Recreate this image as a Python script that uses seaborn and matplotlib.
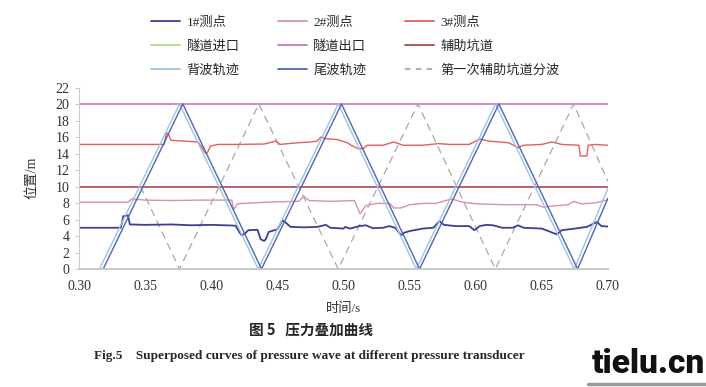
import matplotlib
matplotlib.use("Agg")
import numpy as np
import pandas as pd
import matplotlib.pyplot as plt
from matplotlib.lines import Line2D
import seaborn as sns

# ---------------- data ----------------
p1_t = [0.300, 0.3316, 0.3335, 0.337, 0.3385, 0.350, 0.370, 0.385, 0.400, 0.410,
        0.4184, 0.4215, 0.423, 0.4255, 0.428, 0.435, 0.4374, 0.4400, 0.4412, 0.4435,
        0.450, 0.4538, 0.4565, 0.460, 0.470, 0.480, 0.4867, 0.490, 0.500, 0.5013,
        0.505, 0.512, 0.517, 0.522, 0.530, 0.5345, 0.539, 0.5436, 0.546, 0.550,
        0.560, 0.568, 0.5725, 0.576, 0.585, 0.595, 0.599, 0.603, 0.608, 0.613,
        0.620, 0.628, 0.632, 0.636, 0.650, 0.6613, 0.665, 0.675, 0.684, 0.6917,
        0.695, 0.700]
p1_v = [5.0, 5.0, 6.4, 6.5, 5.4, 5.35, 5.4, 5.3, 5.35, 5.3,
        5.25, 4.4, 4.1, 4.3, 4.7, 4.75, 3.6, 3.4, 3.6, 4.5,
        4.8, 5.9, 5.6, 5.1, 5.05, 5.1, 5.35, 5.0, 4.9, 5.1,
        4.9, 5.2, 5.3, 4.95, 5.0, 5.2, 5.0, 4.1, 4.4, 4.6,
        4.9, 5.0, 5.8, 5.35, 5.2, 5.2, 4.7, 5.2, 5.35, 5.3,
        5.0, 5.0, 5.3, 5.0, 4.9, 4.2, 4.7, 4.9, 5.1, 5.7,
        5.2, 5.15]

p2_t = [0.300, 0.337, 0.340, 0.350, 0.370, 0.390, 0.4155, 0.417, 0.4197, 0.430,
        0.450, 0.466, 0.470, 0.474, 0.490, 0.5082, 0.5125, 0.517, 0.525, 0.535,
        0.538, 0.5436, 0.550, 0.560, 0.570, 0.5816, 0.590, 0.600, 0.620, 0.640,
        0.646, 0.651, 0.660, 0.670, 0.674, 0.680, 0.690, 0.700]
p2_v = [8.1, 8.1, 8.5, 8.35, 8.3, 8.35, 8.35, 7.2, 7.9, 8.0,
        8.15, 8.2, 8.8, 8.3, 8.2, 8.3, 6.7, 7.7, 7.95, 7.95,
        7.4, 7.4, 7.8, 7.95, 7.95, 8.5, 8.1, 7.9, 7.8, 7.8,
        7.8, 7.5, 7.65, 7.8, 8.2, 7.9, 8.0, 8.4]

p3_t = [0.300, 0.3645, 0.366, 0.3675, 0.3696, 0.380, 0.390, 0.3935, 0.3957, 0.397,
        0.3995, 0.405, 0.420, 0.440, 0.4488, 0.452, 0.465, 0.475, 0.480, 0.483,
        0.486, 0.495, 0.503, 0.5057, 0.5108, 0.5148, 0.518, 0.530, 0.538, 0.545,
        0.560, 0.5717, 0.580, 0.595, 0.603, 0.610, 0.625, 0.632, 0.636, 0.650,
        0.6575, 0.665, 0.678, 0.679, 0.684, 0.685, 0.690, 0.700]
p3_v = [15.1, 15.1, 16.5, 16.4, 15.6, 15.5, 15.4, 14.6, 14.0, 14.1,
        14.9, 15.1, 15.1, 15.15, 15.5, 15.1, 15.3, 15.4, 15.5, 16.0,
        15.8, 15.7, 15.3, 15.0, 14.6, 14.6, 15.0, 15.0, 15.4, 15.0,
        15.0, 15.2, 15.1, 15.1, 15.75, 15.5, 15.3, 14.7, 15.0, 15.1,
        15.4, 15.1, 15.0, 13.7, 13.7, 15.0, 15.1, 15.0]

span_t = [0.30, 0.70]
inlet_pos = 0.0     # 隧道进口
outlet_pos = 20.0   # 隧道出口
adit_pos = 10.0     # 辅助坑道

head_t = [0.3155, 0.3760, 0.4355, 0.4960, 0.5550, 0.6150, 0.6745, 0.700]
head_v = [0.0, 20.0, 0.0, 20.0, 0.0, 20.0, 0.0, 9.8]
tail_t = [0.3183, 0.3785, 0.4380, 0.4985, 0.5575, 0.6175, 0.6770, 0.700]
tail_v = [0.0, 20.0, 0.0, 20.0, 0.0, 20.0, 0.0, 8.6]

split_t = [0.3465, 0.3760, 0.4360, 0.4960, 0.5563, 0.6148, 0.6740, 0.700]
split_v = [10.0, 0.0, 20.0, 0.0, 20.0, 0.0, 20.0, 10.6]

labels = ["1#测点", "2#测点", "3#测点",
          "隧道进口", "隧道出口", "辅助坑道",
          "背波轨迹", "尾波轨迹", "第一次辅助坑道分波"]
xticks = [0.30, 0.35, 0.40, 0.45, 0.50, 0.55, 0.60, 0.65, 0.70]
yticks = list(range(0, 23, 2))

# ---------------- style ----------------
sns.set_theme(style="white")
plt.rcParams["font.family"] = ["Liberation Serif", "Noto Sans CJK SC"]
plt.rcParams["axes.unicode_minus"] = False

colors = {
    "1#测点": "#3c3f92",
    "2#测点": "#dc8fae",
    "3#测点": "#e3605a",
    "隧道进口": "#b3d98a",
    "隧道出口": "#c77ab8",
    "辅助坑道": "#b2454d",
    "背波轨迹": "#9ec2e6",
    "尾波轨迹": "#4d66ba",
    "第一次辅助坑道分波": "#a8a8a8",
}

fig = plt.figure(figsize=(7.06, 3.87), dpi=100)
ax = fig.add_axes([79 / 706, 1 - 269 / 387, (608 - 79) / 706, (269 - 87.5) / 387])

def draw(t, v, name, lw=1.1, **kw):
    df = pd.DataFrame({"t": t, "v": v})
    sns.lineplot(data=df, x="t", y="v", ax=ax, color=colors[name], lw=lw,
                 estimator=None, sort=False, label=name, legend=False, **kw)

draw(span_t, [inlet_pos] * 2, "隧道进口", lw=1.4, clip_on=False)
draw(span_t, [outlet_pos] * 2, "隧道出口", lw=1.2)
draw(span_t, [adit_pos] * 2, "辅助坑道", lw=1.2)
draw(split_t, split_v, "第一次辅助坑道分波", lw=0.9, linestyle=(0, (6, 4)))
draw(p2_t, p2_v, "2#测点", lw=1.0)
draw(p3_t, p3_v, "3#测点", lw=1.0)
draw(p1_t, p1_v, "1#测点", lw=1.3)
draw(head_t, head_v, "背波轨迹", lw=1.0)
draw(tail_t, tail_v, "尾波轨迹", lw=1.0)

ax.set_xlim(0.30, 0.70)
ax.set_ylim(0, 22)
ax.set_xticks(xticks)
ax.set_xticklabels([f"{x:.2f}" for x in xticks])
ax.set_yticks(yticks)
ax.set_yticklabels([str(y) for y in yticks])
ax.tick_params(axis="x", length=0, pad=8, labelsize=10, labelcolor="#333333")
ax.tick_params(axis="y", length=3, width=0.6, color="#bbbbbb", direction="out",
               left=True, pad=4, labelsize=10, labelcolor="#333333")
for s in ["top", "right"]:
    ax.spines[s].set_visible(False)
ax.spines["left"].set_color("#cccccc")
ax.spines["left"].set_linewidth(0.8)
ax.spines["bottom"].set_color("#cccccc")
ax.set_xlabel("时间/s", fontsize=9.5, labelpad=7, color="#333333")
ax.set_ylabel("位置/m", fontsize=10, labelpad=12, color="#333333")

# legend: row-major visual order with 3 columns
order = [0, 3, 6, 1, 4, 7, 2, 5, 8]
handles = []
for i in order:
    name = labels[i]
    ls = (0, (3, 3)) if name == "第一次辅助坑道分波" else "-"
    handles.append(Line2D([], [], color=colors[name], lw=1.3, linestyle=ls))
fig.legend(handles, [labels[i] for i in order], ncol=3, loc="upper left",
           bbox_to_anchor=(139 / 706, 1 - 5 / 387), frameon=False, fontsize=9.5,
           handlelength=2.2, handletextpad=0.5, columnspacing=2.9, labelspacing=0.85)

fig.text(0.44, 1 - 330 / 387, "图 5   压力叠加曲线", ha="center", va="center",
         fontsize=10.5, fontweight="bold", family=["Noto Sans CJK SC"])
fig.text(0.438, 1 - 356 / 387,
         "Fig.5    Superposed curves of pressure wave at different pressure transducer",
         ha="center", va="center", fontsize=9.5, fontweight="bold",
         family=["Liberation Serif"])
fig.text(0.998, 1 - 380 / 387, "tielu.cn", ha="right", va="bottom", fontsize=24,
         fontweight=900, family=["Roboto"], color="#111111")
fig.add_artist(Line2D([588 / 706, 1.0], [1 - 384 / 387] * 2, color="#9a9a9a", lw=2.5))

fig.savefig("out.png", dpi=100)
